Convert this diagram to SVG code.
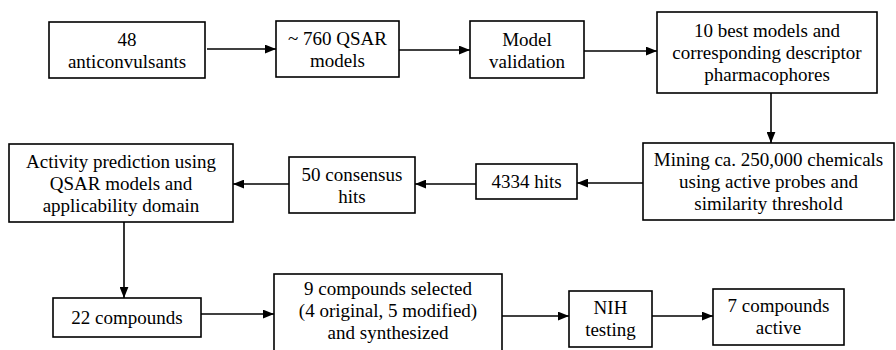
<svg xmlns="http://www.w3.org/2000/svg" width="896" height="350" viewBox="0 0 896 350">
<style>
.box{fill:#fff;stroke:#000;stroke-width:1.6}
.lbl{font-size:19px;fill:#000;text-anchor:middle}
.con line{stroke:#000;stroke-width:1.6;marker-end:url(#ah)}
</style>
<defs>
<marker id="ah" viewBox="0 0 10 8" refX="10" refY="4" markerUnits="userSpaceOnUse" markerWidth="11" markerHeight="9" orient="auto">
<path d="M0,0 L10,4 L0,8 Z" fill="#000"/>
</marker>
</defs>
<rect width="896" height="350" fill="#fff"/>
<g id="connectors" class="con">
<line x1="207" y1="49" x2="276" y2="49"/>
<line x1="399" y1="50" x2="470" y2="50"/>
<line x1="584" y1="51" x2="657" y2="51"/>
<line x1="771" y1="93" x2="771" y2="143"/>
<line x1="643" y1="183" x2="577" y2="183"/>
<line x1="476" y1="184" x2="415" y2="184"/>
<line x1="289" y1="184" x2="233" y2="184"/>
<line x1="124" y1="222" x2="124" y2="298"/>
<line x1="201" y1="314" x2="274" y2="314"/>
<line x1="502" y1="316" x2="569" y2="316"/>
<line x1="652" y1="316" x2="713" y2="316"/>
</g>
<g font-family="Liberation Serif, Times New Roman, serif">
<g id="n1"><rect class="box" x="49" y="22" width="156" height="56"/>
<text class="lbl" x="127" y="45.5">48</text><text class="lbl" x="127" y="67.5">anticonvulsants</text></g>
<g id="n2"><rect class="box" x="276" y="21" width="123" height="56"/>
<text class="lbl" x="337.5" y="45">~ 760 QSAR</text><text class="lbl" x="337.5" y="67">models</text></g>
<g id="n3"><rect class="box" x="470" y="21" width="114" height="57"/>
<text class="lbl" x="527" y="45.5">Model</text><text class="lbl" x="527" y="67.5">validation</text></g>
<g id="n4"><rect class="box" x="657" y="12" width="220" height="81"/>
<text class="lbl" x="767" y="37">10 best models and</text><text class="lbl" x="767" y="59">corresponding descriptor</text><text class="lbl" x="767" y="81">pharmacophores</text></g>
<g id="n5"><rect class="box" x="643" y="143" width="251" height="77"/>
<text class="lbl" x="768.5" y="166">Mining ca. 250,000 chemicals</text><text class="lbl" x="768.5" y="188">using active probes and</text><text class="lbl" x="768.5" y="210">similarity threshold</text></g>
<g id="n6"><rect class="box" x="476" y="164" width="101" height="35"/>
<text class="lbl" x="526.5" y="188">4334 hits</text></g>
<g id="n7"><rect class="box" x="289" y="157" width="126" height="56"/>
<text class="lbl" x="352" y="180.5">50 consensus</text><text class="lbl" x="352" y="202.5">hits</text></g>
<g id="n8"><rect class="box" x="9" y="144" width="224" height="78"/>
<text class="lbl" x="121" y="167.5">Activity prediction using</text><text class="lbl" x="121" y="189.5">QSAR models and</text><text class="lbl" x="121" y="211.5">applicability domain</text></g>
<g id="n9"><rect class="box" x="53" y="298" width="148" height="39"/>
<text class="lbl" x="127" y="324">22 compounds</text></g>
<g id="n10"><rect class="box" x="274" y="274" width="228" height="90"/>
<text class="lbl" x="388" y="295">9 compounds selected</text><text class="lbl" x="388" y="317">(4 original, 5 modified)</text><text class="lbl" x="388" y="339">and synthesized</text></g>
<g id="n11"><rect class="box" x="569" y="291" width="83" height="56"/>
<text class="lbl" x="610.5" y="314">NIH</text><text class="lbl" x="610.5" y="336">testing</text></g>
<g id="n12"><rect class="box" x="713" y="289" width="131" height="56"/>
<text class="lbl" x="778.5" y="312">7 compounds</text><text class="lbl" x="778.5" y="334">active</text></g>
</g>
</svg>
